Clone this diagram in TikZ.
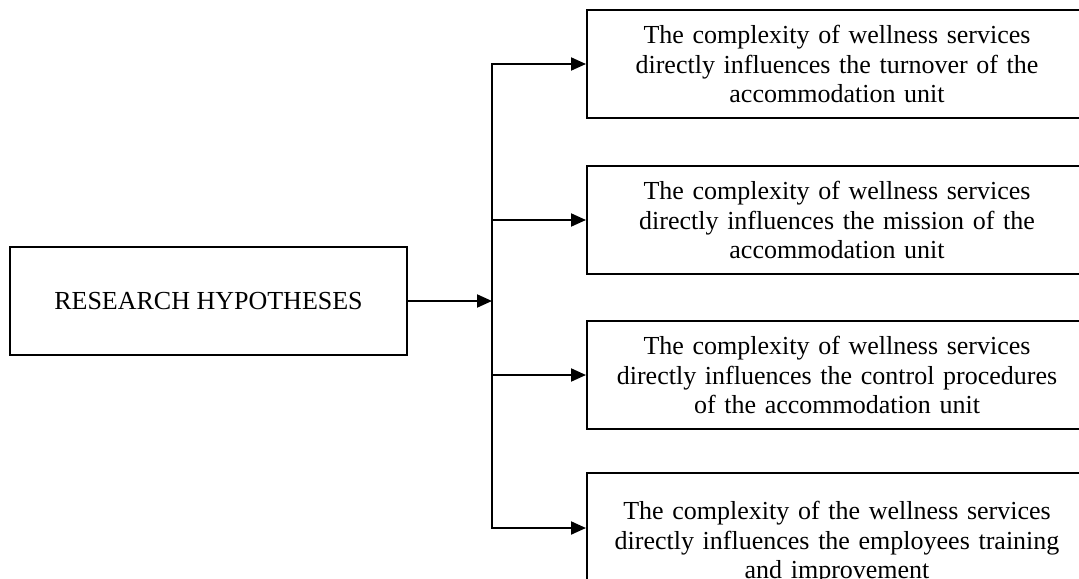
\documentclass[tikz,border=0pt]{standalone}
\usepackage{fontspec}
\setmainfont{Liberation Serif}
\usetikzlibrary{positioning,arrows.meta,calc}

\begin{document}
\begin{tikzpicture}[x=0.5pt,y=-0.5pt,
            box/.style={draw,line width=1pt,rectangle,align=center,
                        font=\fontsize{13}{14.75}\selectfont},
            hyp/.style={box,text width=240pt,minimum width=250pt,
                        minimum height=54pt,anchor=north west,inner sep=0pt},
            link/.style={draw,line width=1pt,line cap=rect},
            arr/.style={draw,line width=1pt,-{Triangle[length=7.5pt,width=6.5pt]}}]
        \useasboundingbox (0,0) rectangle (1079,578);
        \clip (0,0) rectangle (1079,578);
        % source box
        \node[box,minimum width=198.5pt,minimum height=54pt] (rh) at (208.5,301)
              {RESEARCH HYPOTHESES};
        % hypotheses
        \node[hyp] (h1) at (586,9) {The complexity of wellness services\\
              directly influences the turnover of the\\ accommodation unit};
        \node[hyp] (h2) at (586,165) {The complexity of wellness services\\
              directly influences the mission of the\\ accommodation unit};
        \node[hyp] (h3) at (586,320) {The complexity of wellness services\\
              directly influences the control procedures\\ of the accommodation unit};
        \node[hyp,minimum height=70pt] (h4) at (586,472)
              {The complexity of the wellness services\\
              directly influences the employees training\\ and improvement};
        % connectors
        \coordinate (trunk) at (492,301);
        \coordinate (b4) at (492,528);
        \draw[arr] (rh.east) -- (rh.east -| trunk);
        \draw[link] (trunk |- h1.west) -- (b4);
        \foreach \n in {1,2,3}
          \draw[arr] (trunk |- h\n.west) -- (h\n.west);
        \draw[arr] (b4) -- (b4 -| h4.west);
\end{tikzpicture}
\end{document}
